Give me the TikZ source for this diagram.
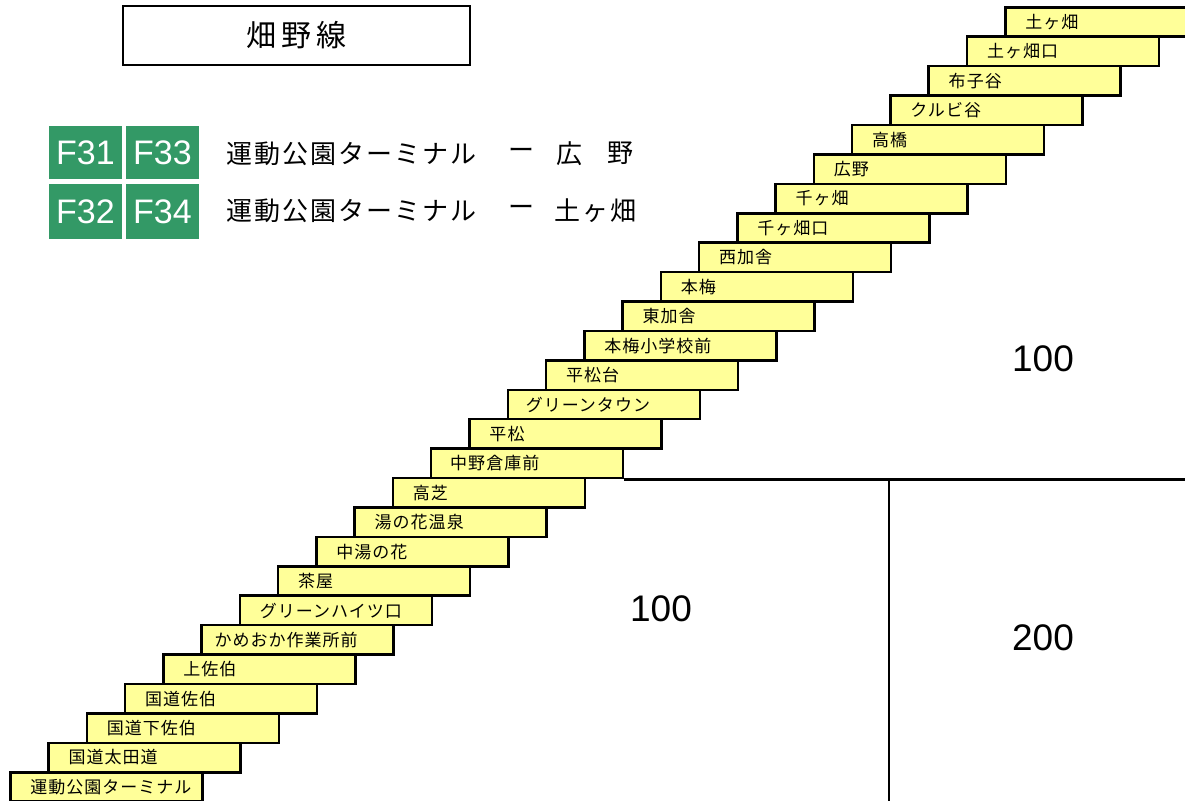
\documentclass[tikz,border=0pt]{standalone}
\usepackage{fontspec}
\setmainfont{Noto Sans CJK JP}
\newfontfamily\stnfont[LetterSpace=6]{Noto Sans CJK JP}
\newfontfamily\legfont[LetterSpace=8]{Noto Sans CJK JP}
\newfontfamily\ttlfont[LetterSpace=17]{Noto Sans CJK JP}
\newfontfamily\numfont{Liberation Sans}
\definecolor{stnyellow}{HTML}{FFFF99}
\definecolor{badgegreen}{HTML}{339966}
\begin{document}
\begin{tikzpicture}[x=1pt,y=-1pt,
  stn/.style={draw, line width=2.5pt, fill=stnyellow, anchor=north west, inner sep=0pt,
    minimum height=29.42pt, text width=192pt, align=left,
    font=\stnfont\fontsize{17}{17}\selectfont},
  badge/.style={fill=badgegreen, text=white, minimum width=73pt, inner sep=0pt,
    font=\numfont\fontsize{34}{34}\selectfont},
  leg/.style={inner sep=0pt, font=\legfont\fontsize{26}{26}\selectfont},
  legc/.style={inner sep=0pt, font=\fontsize{26}{26}\selectfont},
  num/.style={inner sep=0pt, font=\numfont\fontsize{37}{37}\selectfont},
  rule/.style={line width=2.5pt}]
\clip (0,0) rectangle (1185,800);
% title
\node[draw, line width=2pt, minimum width=347pt, minimum height=59pt, inner sep=0pt,
  font=\ttlfont\fontsize{30}{30}\selectfont] (title) at (296.5,35.5) {畑野線};
% badges
\node[badge, minimum height=53pt] (f31) at (85.5,152.5) {F31};
\node[badge, minimum height=53pt] (f33) at (162.5,152.5) {F33};
\node[badge, minimum height=55pt] (f32) at (85.5,211.5) {F32};
\node[badge, minimum height=55pt] (f34) at (162.5,211.5) {F34};
% legend
\node[leg, anchor=west] (l1) at (226,153.5) {運動公園ターミナル};
\node[legc] (d1) at (521.5,153.5) {ー};
\node[legc] (h1) at (569,153.5) {広};
\node[legc] (h2) at (620.5,153.5) {野};
\node[leg, anchor=west] (l2) at (226,211) {運動公園ターミナル};
\node[legc] (d2) at (521.5,211) {ー};
\node[leg, anchor=west] (t2) at (554,211) {土ヶ畑};
% stations
\foreach \nm/\off [count=\i from 0] in {
  運動公園ターミナル/20, 国道太田道/20, 国道下佐伯/20, 国道佐伯/20, 上佐伯/20,
  かめおか作業所前/13, グリーンハイツ口/20, 茶屋/20, 中湯の花/20, 湯の花温泉/20,
  高芝/20, 中野倉庫前/19, 平松/20, グリーンタウン/18, 平松台/20, 本梅小学校前/20,
  東加舎/20, 本梅/20, 西加舎/20, 千ヶ畑口/20, 千ヶ畑/20, 広野/20, 高橋/20,
  クルビ谷/20, 布子谷/20, 土ヶ畑口/20, 土ヶ畑/20} {
  \node[stn] (s\i) at ({9+38.27*\i},{771-29.42*\i}) {\hspace*{\off pt}\nm};
}
% fare zone rules
\coordinate (hr) at (1190,0);
\coordinate (vb) at (889,805);
\draw[rule] (s11.south east) -- (s11.south east -| hr);
\draw[rule] (vb |- s11.south) -- (vb);
% fares
\node[num] (n1) at (1043,359) {100};
\node[num] (n2) at (661,609) {100};
\node[num] (n3) at (1043,638) {200};
\end{tikzpicture}
\end{document}
